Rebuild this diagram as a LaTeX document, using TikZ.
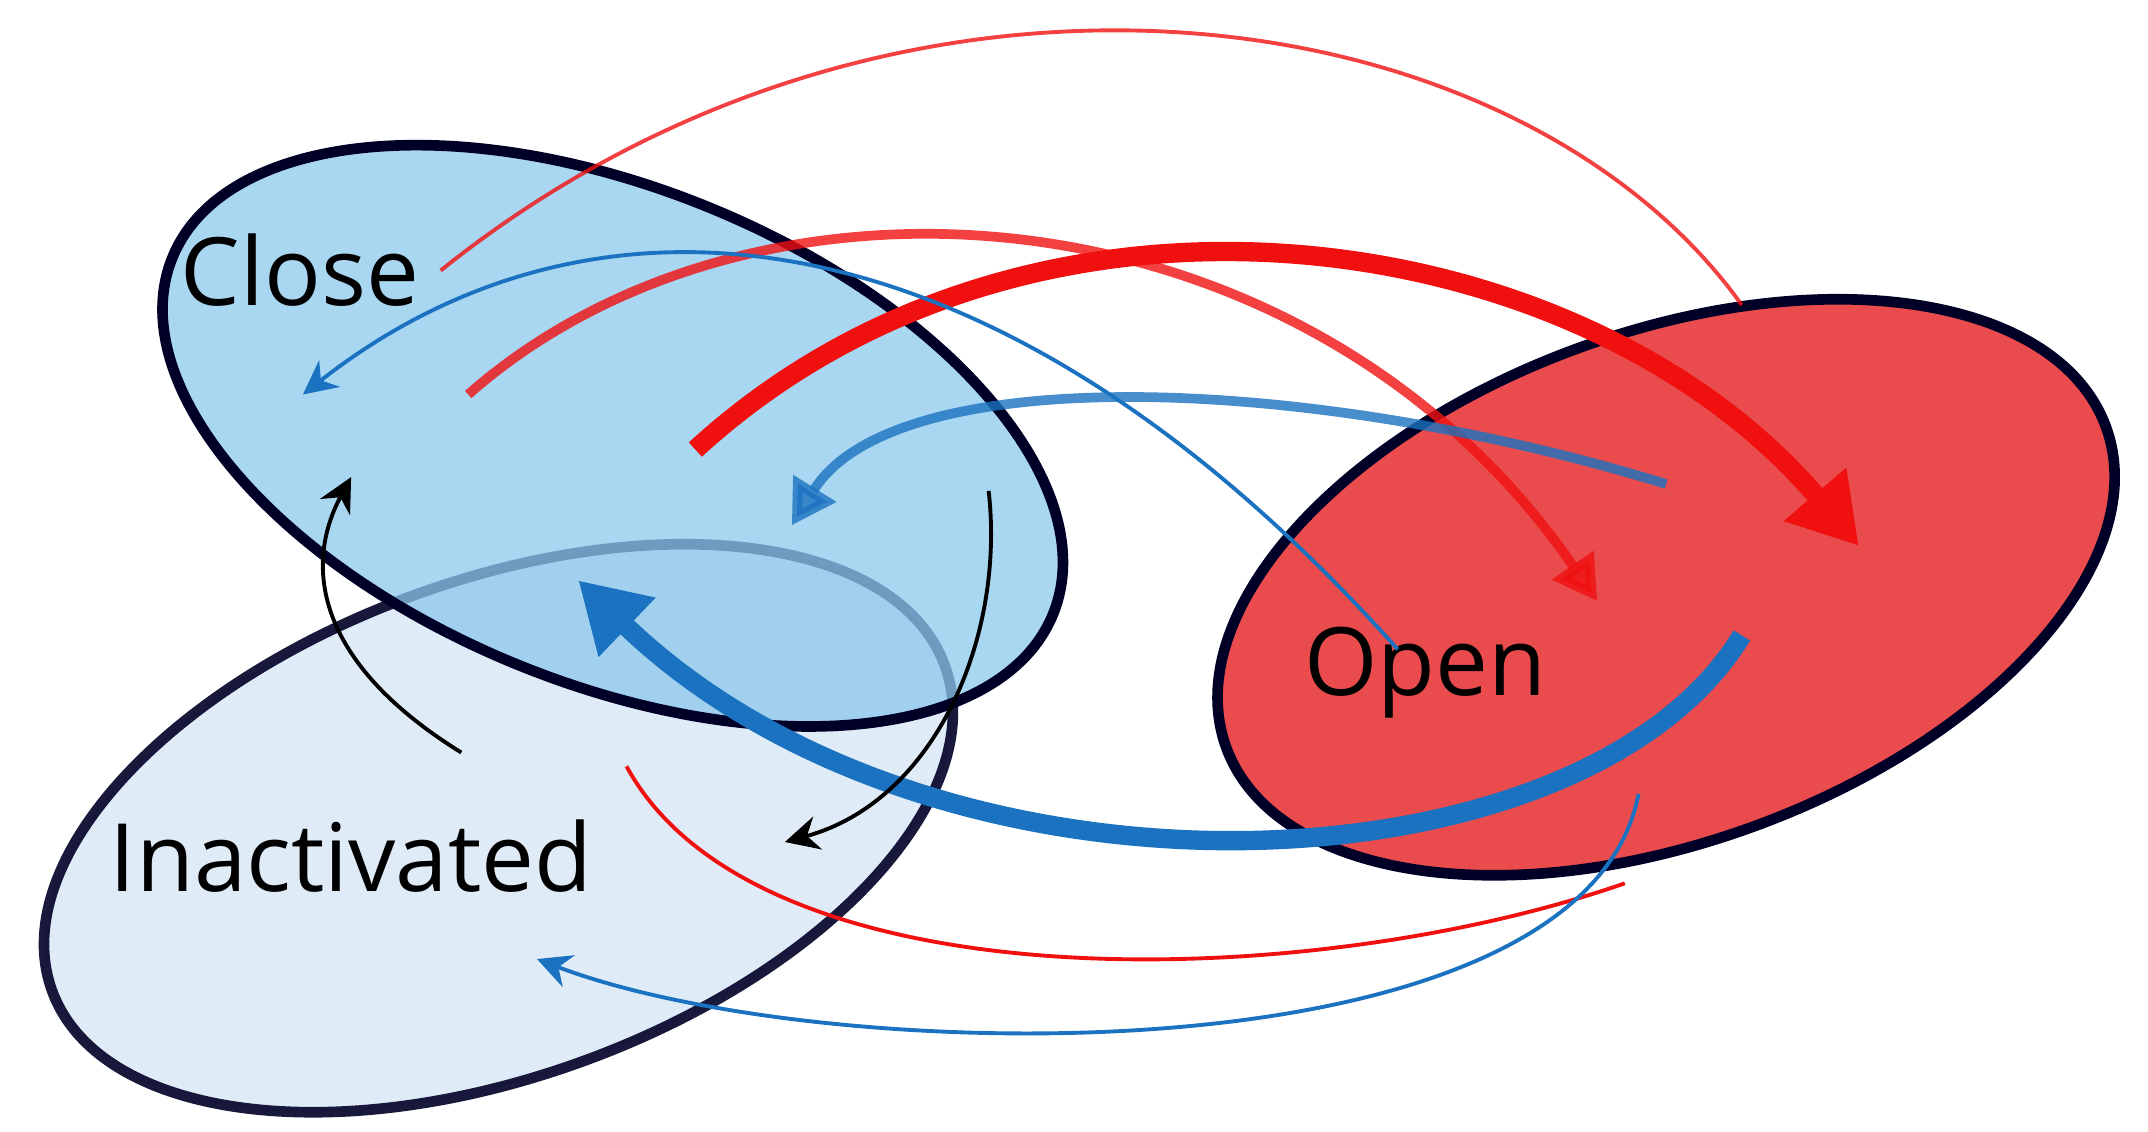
\documentclass[tikz,border=0pt]{standalone}
\usepackage{fontspec}
\setmainfont{Open Sans}
\usetikzlibrary{shapes.geometric,arrows.meta}
\definecolor{closefill}{HTML}{8CC8EC}
\definecolor{inactfill}{HTML}{DCEAF6}
\definecolor{openfill}{HTML}{E8383A}
\definecolor{redline}{HTML}{F01010}
\definecolor{blueline}{HTML}{1A72C0}
\tikzset{
  state/.style={ellipse,draw=black!85!blue,line width=2.2pt,inner sep=0pt},
  label/.style={font=\fontsize{19.5}{24}\selectfont},
  thick arrow/.style={line width=4pt,-{Triangle[length=14pt,width=16pt]}},
  mid arrow/.style={line width=2pt,-{Triangle[length=9pt,width=10pt]}},
  thin arrow/.style={line width=0.8pt,-{Stealth[length=7pt,width=7pt]}}
}
\begin{document}
\begin{tikzpicture}
\useasboundingbox (0,0) rectangle (15.6,8.215);
% states
\node[state,fill=inactfill,opacity=0.9,minimum width=6.9cm,minimum height=3.6cm,rotate=20] (inact) at (3.62,2.2) {};
\node[state,fill=closefill,fill opacity=0.75,minimum width=6.9cm,minimum height=3.6cm,rotate=-22] (close) at (4.45,5.05) {};
\node[state,fill=openfill,fill opacity=0.9,minimum width=6.8cm,minimum height=3.7cm,rotate=20] (open) at (12.1,3.95) {};
\node[label] (closelbl) at (2.18,6.25) {Close};
\node[label] (inactlbl) at (2.55,2.0) {Inactivated};
\node[label] (openlbl) at (10.35,3.33) {Open};
% end points
\coordinate (r1s) at (5.05,4.95); \coordinate (r1e) at (13.5,4.25);
\coordinate (b1s) at (12.65,3.6); \coordinate (b1e) at (4.2,4.0);
\coordinate (r2s) at (3.4,5.35); \coordinate (r2e) at (11.6,3.85);
\coordinate (b2s) at (12.1,4.7); \coordinate (b2e) at (5.75,4.4);
\coordinate (b3s) at (10.15,3.5); \coordinate (b3e) at (2.2,5.35);
\coordinate (r3s) at (3.2,6.25); \coordinate (r3e) at (12.65,6.0);
\coordinate (k1s) at (3.35,2.75); \coordinate (k1e) at (2.55,4.75);
\coordinate (k2s) at (7.18,4.65); \coordinate (k2e) at (5.7,2.1);
\coordinate (r4s) at (4.55,2.65); \coordinate (r4e) at (11.8,1.8);
\coordinate (b4s) at (11.9,2.45); \coordinate (b4e) at (3.9,1.25);
% transitions
\draw[redline,thick arrow] (r1s) .. controls (7.5,7.2) and (11.5,6.6) .. (r1e);
\draw[blueline,thick arrow] (b1s) .. controls (11.5,1.7) and (6.8,1.5) .. (b1e);
\draw[redline,mid arrow,opacity=0.8] (r2s) .. controls (5.5,7.2) and (9.5,6.9) .. (r2e);
\draw[blueline,mid arrow,opacity=0.8] (b2s) .. controls (9.5,5.5) and (6.5,5.6) .. (b2e);
\draw[blueline,thin arrow] (b3s) .. controls (7.2,6.8) and (4.3,7.0) .. (b3e);
\draw[redline,line width=0.8pt,opacity=0.8] (r3s) .. controls (6.5,8.9) and (11.0,8.3) .. (r3e);
\draw[black,thin arrow] (k1s) .. controls (2.3,3.4) and (2.2,4.1) .. (k1e);
\draw[black,thin arrow] (k2s) .. controls (7.3,3.6) and (6.8,2.4) .. (k2e);
\draw[redline,line width=0.8pt] (r4s) .. controls (5.5,0.9) and (9.5,1.0) .. (r4e);
\draw[blueline,thin arrow] (b4s) .. controls (11.5,0.35) and (6.0,0.45) .. (b4e);
\end{tikzpicture}
\end{document}
